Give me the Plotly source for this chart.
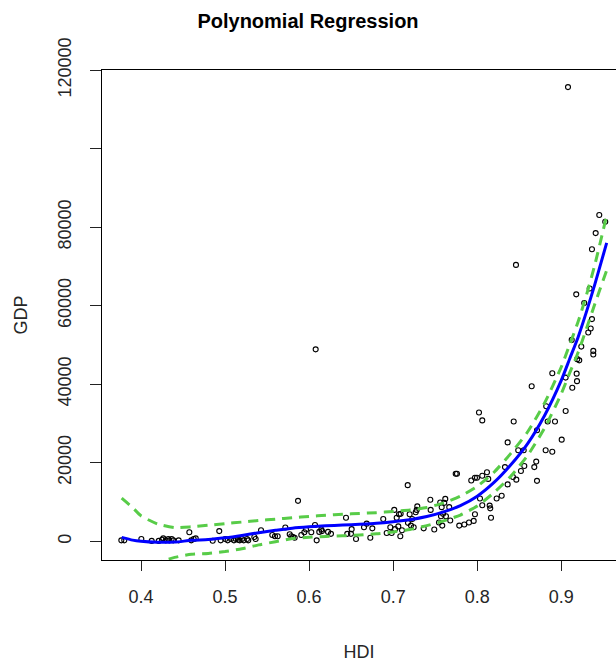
import plotly.graph_objects as go

# Observed countries: human development index vs GDP per capita
hdi = [
    0.3766, 0.3801, 0.4004, 0.4127, 0.4211, 0.4250, 0.4265, 0.4294, 0.4325, 0.4337,
    0.4365, 0.4384, 0.4448, 0.4575, 0.4598, 0.4627, 0.4651, 0.4853, 0.4931, 0.4948,
    0.5003, 0.5031, 0.5071, 0.5106, 0.5130, 0.5154, 0.5174, 0.5201, 0.5222, 0.5261,
    0.5276, 0.5348, 0.5364, 0.5428, 0.5562, 0.5594, 0.5626, 0.5717, 0.5769, 0.5788,
    0.5808, 0.5828, 0.5868, 0.5907, 0.5943, 0.5963, 0.6026, 0.6070, 0.6090, 0.6121,
    0.6145, 0.6153, 0.6225, 0.6260, 0.6078, 0.6439, 0.6454, 0.6498, 0.6506, 0.6558,
    0.6653, 0.6685, 0.6728, 0.6752, 0.6882, 0.6923, 0.6966, 0.6982, 0.7013, 0.7022,
    0.7042, 0.7061, 0.7069, 0.7089, 0.7085, 0.7105, 0.7173, 0.7176, 0.7196, 0.7212,
    0.7227, 0.7244, 0.7268, 0.7280, 0.7287, 0.7363, 0.7442, 0.7446, 0.7489, 0.7545,
    0.7560, 0.7577, 0.7569, 0.7584, 0.7593, 0.7608, 0.7620, 0.7628, 0.7667, 0.7679,
    0.7744, 0.7759, 0.7786, 0.7846, 0.7902, 0.7929, 0.7958, 0.7973, 0.7973, 0.7997,
    0.8021, 0.8033, 0.8060, 0.8060, 0.8060, 0.8116, 0.8131, 0.8148, 0.8155, 0.8164,
    0.8231, 0.8291, 0.8330, 0.8362, 0.8362, 0.8425, 0.8434, 0.8465, 0.8488, 0.8520,
    0.8553, 0.8560, 0.8648, 0.8679, 0.8702, 0.8711, 0.8711, 0.8814, 0.8821, 0.8838,
    0.8893, 0.8925, 0.9005, 0.9052, 0.9131, 0.9187, 0.9080, 0.8461, 0.9452, 0.9523,
    0.9409, 0.9365, 0.9338, 0.9178, 0.9273, 0.9365, 0.9350, 0.9321, 0.9238, 0.9381,
    0.9381, 0.9124, 0.9190, 0.9214, 0.8893, 0.9052, 0.9183,
]
gdp = [
    250, 250, 600, 100, 100, 400, 750, 250, 600, 250,
    600, 250, 250, 2300, 250, 600, 750, 150, 2600, 250,
    600, 250, 600, 250, 600, 400, 250, 600, 250, 600,
    250, 1100, 600, 2800, 1600, 1300, 1300, 3500, 1800, 1300,
    1100, 900, 10300, 1600, 2300, 3000, 2300, 4150, 250, 2400,
    3000, 2600, 2400, 1900, 48900, 6000, 1900, 1900, 3100, 600,
    3600, 4500, 900, 3300, 5700, 2100, 3600, 2100, 8000, 3100,
    6000, 3800, 6900, 7000, 1300, 2800, 14300, 4700, 6900, 4000,
    5700, 3600, 7400, 8000, 8900, 3300, 10600, 8000, 3000, 4800,
    9900, 8700, 6400, 4000, 7000, 9800, 10800, 6400, 8700, 5300,
    17200, 17200, 4000, 4300, 4800, 15500, 5200, 6900, 16200, 16200,
    32800, 10900, 30800, 16700, 9200, 17600, 15900, 9100, 8400, 6000,
    10900, 11600, 18900, 25200, 14500, 16400, 30500, 15700, 23200, 17900,
    23200, 19200, 39500, 18900, 20300, 28300, 15400, 23200, 34400, 30500,
    22800, 30500, 25900, 33200, 39100, 40800, 115700, 70400, 83100, 81400,
    78500, 74400, 64400, 62900, 60700, 56600, 54200, 53200, 49600, 48500,
    47600, 51300, 46400, 46100, 42800, 41700, 42700,
]

# Fitted polynomial curve with its confidence band
hdi_grid = [
    0.377, 0.39, 0.40, 0.42, 0.44, 0.46, 0.48, 0.50, 0.52, 0.54, 0.56,
    0.58, 0.60, 0.62, 0.64, 0.66, 0.68, 0.70, 0.72, 0.74, 0.76, 0.78,
    0.80, 0.82, 0.84, 0.86, 0.88, 0.90, 0.91, 0.92, 0.93, 0.94, 0.954,
]
gdp_fit = [
    1000, 300, 0, -250, -200, 250, 450, 900, 1500, 2200, 2800,
    3350, 3700, 3950, 4150, 4350, 4600, 5000, 5500, 6300, 7500, 9100,
    11500, 15000, 19500, 24900, 32000, 41000, 46500, 52000, 58500, 65500, 76000,
]
gdp_upper = [
    11000, 8600, 6500, 4400, 3500, 3700, 4100, 4500, 4900, 5300, 5650,
    6000, 6350, 6650, 6900, 7100, 7300, 7600, 8000, 8600, 9800, 11500,
    14000, 17600, 22400, 27900, 35200, 44400, 50100, 55900, 62800, 70500, 83000,
]
gdp_lower = [
    -9500, -8500, -7200, -5400, -4100, -3300, -3100, -2600, -1900, -900, -100,
    700, 1050, 1250, 1400, 1600, 1900, 2400, 3000, 4000, 5200, 6700,
    9000, 12400, 16600, 21900, 28800, 37600, 42900, 48100, 54200, 60500, 69000,
]

y_ticks = [0, 20000, 40000, 60000, 80000, 100000, 120000]
y_tick_text = ["0", "20000", "40000", "60000", "80000", "", "120000"]
x_ticks = [0.4, 0.5, 0.6, 0.7, 0.8, 0.9]
x_tick_text = ["0.4", "0.5", "0.6", "0.7", "0.8", "0.9"]

FONT = "Liberation Sans, Arial, sans-serif"
GREEN = "#58CC48"
TEXT = "#262626"

fig = go.Figure()

fig.add_trace(go.Scatter(
    x=hdi, y=gdp, mode="markers",
    marker=dict(symbol="circle-open", size=5, color="black",
                line=dict(width=1.1, color="black")),
    cliponaxis=True, showlegend=False,
))
fig.add_trace(go.Scatter(
    x=hdi_grid, y=gdp_fit, mode="lines",
    line=dict(color="#0000FF", width=3, shape="spline", smoothing=0.6),
    showlegend=False,
))
for band in (gdp_upper, gdp_lower):
    fig.add_trace(go.Scatter(
        x=hdi_grid, y=band, mode="lines",
        line=dict(color=GREEN, width=3, dash="10px,7px",
                  shape="spline", smoothing=0.6),
        showlegend=False,
    ))

fig.update_layout(
    width=616, height=663,
    margin=dict(l=102, r=0, t=70, b=103, pad=0),
    paper_bgcolor="white", plot_bgcolor="white",
    font=dict(family=FONT, size=18, color=TEXT),
    title=dict(
        text="<b>Polynomial Regression</b>",
        x=0.5, xref="container", xanchor="center",
        y=1 - 21 / 663, yref="container", yanchor="middle",
        font=dict(family=FONT, size=20, color="black"),
    ),
    xaxis=dict(
        range=[0.3536, 0.9651],
        tickvals=x_ticks, ticktext=x_tick_text,
        ticks="outside", ticklen=10, tickwidth=1, tickcolor="#222",
        ticklabelstandoff=10,
        showline=True, linecolor="black", linewidth=1, mirror=True,
        showgrid=False, zeroline=False,
        title=dict(text="HDI", standoff=39,
                   font=dict(family=FONT, size=18, color=TEXT)),
    ),
    yaxis=dict(
        range=[-4760, 120050],
        tickvals=y_ticks, ticktext=y_tick_text,
        tickangle=-90,
        ticks="outside", ticklen=11, tickwidth=1, tickcolor="#222",
        ticklabelstandoff=12,
        showline=True, linecolor="black", linewidth=1, mirror=False,
        showgrid=False, zeroline=False,
        title=dict(text="GDP", standoff=22,
                   font=dict(family=FONT, size=18, color=TEXT)),
    ),
)

fig.write_html("out.html")
